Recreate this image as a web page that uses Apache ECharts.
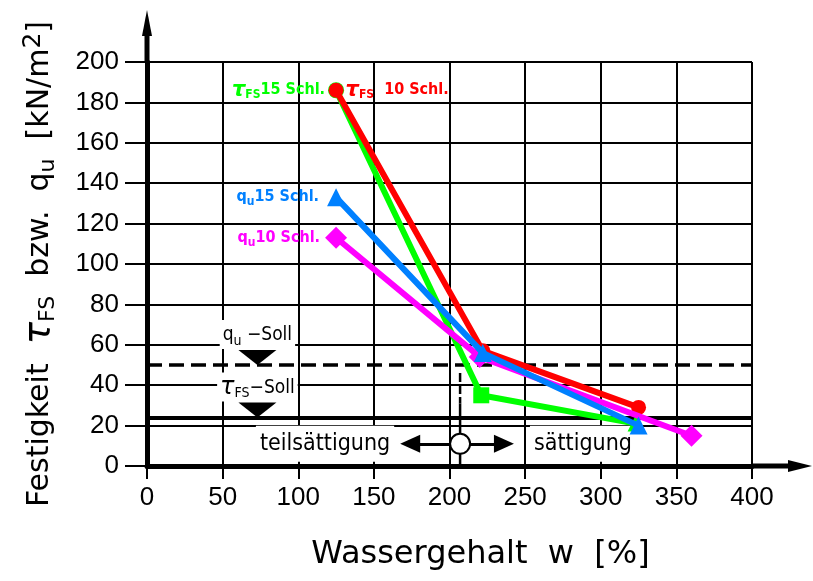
<!DOCTYPE html>
<html><head><meta charset="utf-8">
<script src="https://cdn.jsdelivr.net/npm/echarts@6/dist/echarts.min.js"></script>
<style>html,body{margin:0;padding:0;background:#fff}#c{width:813px;height:581px}</style>
</head><body><div id="c"></div><script>
// axis ranges
const xMin = 0, xMax = 400, xStep = 50;
const yMin = 0, yMax = 200, yStep = 20;
// series values [w %, strength kN/m2]
const tauFS10 = [[125, 186], [222, 57], [325, 29]];
const tauFS15 = [[125, 186], [221, 35], [323, 21]];
const qu15 = [[125, 133], [222, 56], [325, 20]];
const qu10 = [[125, 113], [220, 54], [360, 15]];
// reference levels
const quSoll = 50;
const tauSoll = 24;
const sollMarkerW = 73;
// saturation boundary
const boundaryW = 207;
const boundaryTop = 46;
const boundaryDashEnd = 31;
const boundaryMid = 11;
const arrowLeftW = 174;
const arrowRightW = 236;
// texts
const seriesNames = ['τFS 10 Schl.', 'τFS 15 Schl.', 'qu 15 Schl.', 'qu 10 Schl.'];
const zoneLabels = ['teilsättigung', 'sättigung'];

const FONT = 'DejaVu Sans';
const NUMFONT = '"Liberation Sans", Arial, sans-serif';
const NARROW = '"Liberation Sans Narrow", "DejaVu Sans Condensed", "Liberation Sans", sans-serif';
const chart = echarts.init(document.getElementById('c'), null, {renderer: 'canvas'});

function subRich(color, big, small, weight, family) {
  return {
    t: {fontFamily: FONT, fontSize: big + 5, fontStyle: 'italic', color: color, fontWeight: weight, lineHeight: big + 6},
    s: {fontFamily: family, fontSize: small, color: color, fontWeight: weight, verticalAlign: 'bottom', lineHeight: big + 6},
    n: {fontFamily: family, fontSize: big, color: color, fontWeight: weight, lineHeight: big + 6},
    q: {fontFamily: family, fontSize: big, color: color, fontWeight: weight, lineHeight: big + 6}
  };
}

function lineSeries(name, data, color, symbols, size, labelText, labelPos, labelDist, z) {
  return {
    name: name, type: 'line', data: data, z: z,
    symbol: (v, p) => symbols[p.dataIndex],
    symbolSize: size,
    lineStyle: {color: color, width: 6},
    itemStyle: {color: color, opacity: 1},
    label: {
      show: true, position: labelPos, distance: labelDist, color: color,
      formatter: p => p.dataIndex === 0 ? labelText : '',
      rich: subRich(color, 16, 12, 'bold', NARROW)
    },
    emphasis: {disabled: true}
  };
}

const option = {
  animation: false,
  backgroundColor: '#fff',
  grid: {left: 147, right: 61, top: 62, bottom: 115, containLabel: false},
  xAxis: {
    type: 'value', min: xMin, max: xMax, interval: xStep,
    name: 'Wassergehalt  w  [%]', nameLocation: 'middle', nameGap: 73,
    nameTextStyle: {fontFamily: FONT, fontSize: 32, color: '#000', padding: [0, 0, 0, 62]},
    axisLine: {show: true, onZero: false, lineStyle: {color: '#000', width: 5}},
    axisTick: {show: true, length: 13, lineStyle: {color: '#000', width: 2}},
    axisLabel: {fontFamily: NUMFONT, fontSize: 26, color: '#000', margin: 19},
    splitLine: {show: true, lineStyle: {color: '#000', width: 2}}
  },
  yAxis: {
    type: 'value', min: yMin, max: yMax, interval: yStep,
    name: '{a|Festigkeit  }{t|τ}{s|FS}{a|  bzw.  q}{s|u}{a|  [kN/m}{p|2}{a|]}',
    nameLocation: 'middle', nameGap: 88, nameRotate: 90,
    nameTextStyle: {
      rich: {
        a: {fontFamily: FONT, fontSize: 30, color: '#000', lineHeight: 38},
        t: {fontFamily: FONT, fontSize: 37, color: '#000', fontStyle: 'italic', lineHeight: 38},
        s: {fontFamily: FONT, fontSize: 22, color: '#000', verticalAlign: 'bottom', lineHeight: 38},
        p: {fontFamily: FONT, fontSize: 25, color: '#000', verticalAlign: 'top', lineHeight: 38}
      }
    },
    axisLine: {show: true, onZero: false, lineStyle: {color: '#000', width: 5}},
    axisTick: {show: true, length: 22, lineStyle: {color: '#000', width: 2}},
    axisLabel: {fontFamily: NUMFONT, fontSize: 26, color: '#000', margin: 28},
    splitLine: {show: true, lineStyle: {color: '#000', width: 2}}
  },
  series: [
    {
      type: 'line', data: [], z: 3, silent: true,
      markLine: {
        silent: true, symbol: 'none', animation: false,
        label: {show: false},
        data: [
          {yAxis: quSoll, lineStyle: {color: '#000', type: [15, 7], width: 3.5}},
          {yAxis: tauSoll, lineStyle: {color: '#000', type: 'solid', width: 4}}
        ]
      }
    },
    {
      type: 'line', data: [[boundaryW, boundaryTop], [boundaryW, boundaryDashEnd]], z: 3, symbol: 'none', silent: true,
      lineStyle: {color: '#000', width: 2.5, type: [9, 3]}
    },
    {
      type: 'line', data: [[boundaryW, boundaryDashEnd], [boundaryW, 0]], z: 3, symbol: 'none', silent: true,
      lineStyle: {color: '#000', width: 2.5}
    },
    {
      type: 'line', data: [], z: 3, silent: true,
      markLine: {
        silent: true, animation: false, symbol: ['none', 'triangle'], symbolSize: [18, 20],
        lineStyle: {color: '#000', width: 3, type: 'solid'},
        label: {
          show: true, position: 'end', fontFamily: NARROW, fontSize: 23, color: '#000',
          backgroundColor: '#fff', padding: [7, 4, 6, 4]
        },
        data: [
          [{coord: [boundaryW, boundaryMid], label: {formatter: zoneLabels[0], distance: 16}}, {coord: [arrowLeftW, boundaryMid]}],
          [{coord: [boundaryW, boundaryMid], label: {formatter: zoneLabels[1], distance: 26}}, {coord: [arrowRightW, boundaryMid]}]
        ]
      }
    },
    {
      type: 'scatter', data: [[boundaryW, boundaryMid]], z: 5, silent: true,
      symbol: 'circle', symbolSize: 20,
      itemStyle: {color: '#fff', borderColor: '#000', borderWidth: 2, opacity: 1}
    },
    {
      type: 'scatter', data: [[sollMarkerW, quSoll], [sollMarkerW, tauSoll]], z: 4, silent: true,
      symbol: 'triangle', symbolRotate: 180, symbolSize: [38, 15], symbolOffset: [0, -7.5],
      itemStyle: {color: '#000', opacity: 1},
      label: {
        show: true, position: 'top', distance: 1, color: '#000',
        backgroundColor: '#fff', padding: [3, 3, 1, 3],
        formatter: p => p.dataIndex === 0 ? '{q|q}{s|u}{n| −Soll}' : '{t|τ}{s|FS}{n|−Soll}',
        rich: subRich('#000', 19, 14, 'normal', NARROW)
      }
    },
    lineSeries(seriesNames[1], tauFS15, '#00ff00', ['circle', 'rect', 'triangle'], [16, 16], '{t|τ}{s|FS}{n|15 Schl.}', 'left', 3, 6),
    lineSeries(seriesNames[0], tauFS10, '#ff0000', ['circle', 'circle', 'circle'], 15, '{t|τ}{s|FS}{n|  10 Schl.}', 'right', 2, 7),
    lineSeries(seriesNames[3], qu10, '#ff00ff', ['diamond', 'diamond', 'diamond'], 22, '{q|q}{s|u}{n|10 Schl.}', 'left', 5, 8),
    lineSeries(seriesNames[2], qu15, '#0080ff', ['triangle', 'triangle', 'triangle'], 18, '{q|q}{s|u}{n|15 Schl.}', 'left', 8, 9)
  ]
};
chart.setOption(option);

// axis extensions with arrow heads
const xe = chart.convertToPixel({gridIndex: 0}, [xMax, yMin]);
const ye = chart.convertToPixel({gridIndex: 0}, [xMin, yMax]);
chart.setOption({
  graphic: [
    {type: 'line', z: 10, shape: {x1: xe[0], y1: xe[1], x2: xe[0] + 40, y2: xe[1]}, style: {stroke: '#000', lineWidth: 5}},
    {type: 'polygon', z: 10, shape: {points: [[xe[0] + 36, xe[1] - 6], [xe[0] + 60, xe[1]], [xe[0] + 36, xe[1] + 6]]}, style: {fill: '#000'}},
    {type: 'line', z: 10, shape: {x1: ye[0], y1: ye[1], x2: ye[0], y2: ye[1] - 30}, style: {stroke: '#000', lineWidth: 5}},
    {type: 'polygon', z: 10, shape: {points: [[ye[0] - 5, ye[1] - 26], [ye[0], ye[1] - 52], [ye[0] + 5, ye[1] - 26]]}, style: {fill: '#000'}}
  ]
});
</script></body></html>
